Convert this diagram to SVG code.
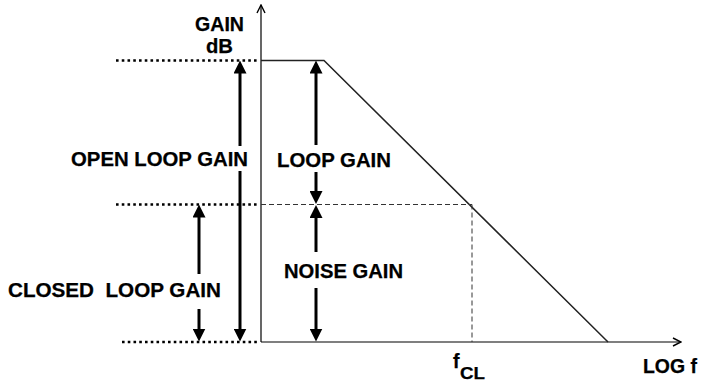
<svg xmlns="http://www.w3.org/2000/svg" width="701" height="381" viewBox="0 0 701 381">
  <style>
    .lbl { font-family: "Liberation Sans", Arial, sans-serif; font-weight: bold; font-size: 19.5px; fill: #000; stroke: #000; stroke-width: 0.25; }
    .sub { font-size: 16px; }
    .axis { stroke: #000; stroke-width: 1.2; fill: none; }
    .curve { stroke: #222; stroke-width: 1.5; fill: none; }
    .dots { stroke: #000; stroke-width: 2.6; stroke-dasharray: 2.6 3.15; fill: none; }
    .dash { stroke: #333; stroke-width: 1; stroke-dasharray: 5 3; fill: none; }
    .span { stroke: #000; stroke-width: 3; fill: none; }
  </style>
  <defs>
    <marker id="head" viewBox="0 0 13 13" markerUnits="userSpaceOnUse" markerWidth="13" markerHeight="13" refX="3" refY="6.5" orient="auto">
      <path d="M0,0 L13,6.5 L0,13 Z" fill="#000"/>
    </marker>
    <marker id="chev" viewBox="0 0 10 10" markerUnits="userSpaceOnUse" markerWidth="10" markerHeight="10" refX="9" refY="5" orient="auto">
      <path d="M1,1 L9,5 L1,9" fill="none" stroke="#000" stroke-width="1.4"/>
    </marker>
  </defs>

  <!-- axes -->
  <g id="axes">
    <line class="axis" x1="261" y1="342" x2="261" y2="5" marker-end="url(#chev)"/>
    <line class="axis" x1="261" y1="342" x2="681" y2="342" marker-end="url(#chev)"/>
  </g>

  <!-- open-loop response: flat, then -20 dB/decade roll-off -->
  <g id="response">
    <polyline class="curve" points="261,60.5 324,60.5 608,342"/>
  </g>

  <!-- reference levels -->
  <g id="levels">
    <line class="dots" x1="116" y1="60.5" x2="258" y2="60.5"/>
    <line class="dots" x1="116" y1="204.5" x2="258" y2="204.5"/>
    <line class="dots" x1="122" y1="342" x2="258" y2="342"/>
    <line class="dash" x1="261" y1="204.5" x2="472" y2="204.5"/>
    <line class="dash" x1="472" y1="204.5" x2="472" y2="342"/>
  </g>

  <!-- dimension arrows -->
  <g id="connectors">
    <!-- open loop gain -->
    <line class="span" x1="240" y1="146" x2="240" y2="70.5" marker-end="url(#head)"/>
    <line class="span" x1="240" y1="171" x2="240" y2="331.5" marker-end="url(#head)"/>
    <!-- closed loop gain -->
    <line class="span" x1="199" y1="274" x2="199" y2="214.5" marker-end="url(#head)"/>
    <line class="span" x1="199" y1="309" x2="199" y2="331.5" marker-end="url(#head)"/>
    <!-- loop gain -->
    <line class="span" x1="316" y1="145" x2="316" y2="70.5" marker-end="url(#head)"/>
    <line class="span" x1="316" y1="172" x2="316" y2="194" marker-end="url(#head)"/>
    <!-- noise gain -->
    <line class="span" x1="316" y1="252" x2="316" y2="215" marker-end="url(#head)"/>
    <line class="span" x1="316" y1="288" x2="316" y2="331.5" marker-end="url(#head)"/>
  </g>

  <!-- labels -->
  <g id="label-gain-db">
    <text class="lbl" x="195" y="30.5" textLength="49" lengthAdjust="spacingAndGlyphs">GAIN</text>
    <text class="lbl" x="206" y="53" textLength="27" lengthAdjust="spacingAndGlyphs">dB</text>
  </g>
  <g id="label-open-loop">
    <text class="lbl" x="71" y="166" textLength="177" lengthAdjust="spacingAndGlyphs">OPEN LOOP GAIN</text>
  </g>
  <g id="label-closed-loop">
    <text class="lbl" x="8" y="297" textLength="213" lengthAdjust="spacingAndGlyphs" xml:space="preserve">CLOSED  LOOP GAIN</text>
  </g>
  <g id="label-loop">
    <text class="lbl" x="277" y="166.5" textLength="114" lengthAdjust="spacingAndGlyphs">LOOP GAIN</text>
  </g>
  <g id="label-noise">
    <text class="lbl" x="284" y="278" textLength="119" lengthAdjust="spacingAndGlyphs">NOISE GAIN</text>
  </g>
  <g id="label-fcl">
    <text class="lbl" x="453" y="368">f</text>
    <text class="lbl sub" x="460" y="378.5" textLength="25" lengthAdjust="spacingAndGlyphs">CL</text>
  </g>
  <g id="label-logf">
    <text class="lbl" x="643" y="372.5" textLength="54" lengthAdjust="spacingAndGlyphs">LOG f</text>
  </g>
</svg>
